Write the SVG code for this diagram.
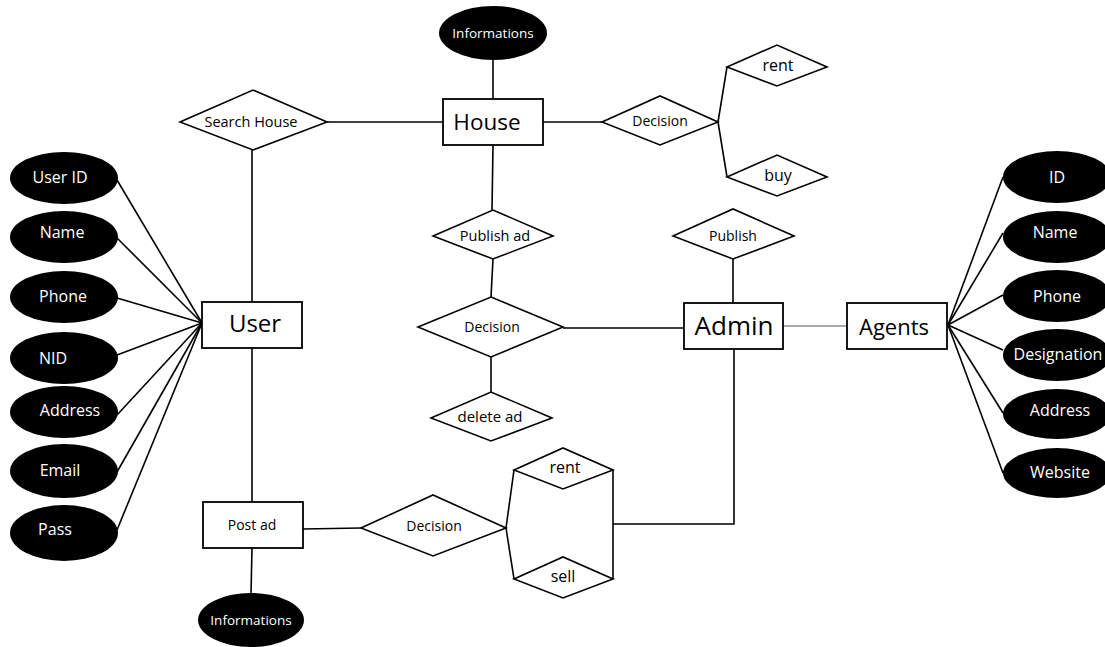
<svg xmlns="http://www.w3.org/2000/svg" width="1105" height="647" viewBox="0 0 1105 647">
<style>
.ent{fill:#fff;stroke:#000;stroke-width:1.8}
.rel{fill:#fff;stroke:#000;stroke-width:1.6}
.att{fill:#000}
.ln{stroke:#000;stroke-width:1.6;fill:none}
text{font-family:"Open Sans","Noto Sans","Liberation Sans",sans-serif;text-anchor:middle;dominant-baseline:central}
.t-big{font-size:22px;fill:#000}
.t-rel{font-size:14px;fill:#000}
.t-sm{font-size:16px;fill:#000}
.t-att{font-size:16px;fill:#fff}
.t-inf{font-size:13.5px;fill:#fff}
</style>
<rect width="1105" height="647" fill="#fff"/>
<g id="connectors">
<line class="ln" x1="117" y1="180" x2="202" y2="323"/>
<line class="ln" x1="117" y1="238" x2="202" y2="323"/>
<line class="ln" x1="117" y1="298" x2="202" y2="323"/>
<line class="ln" x1="117" y1="355" x2="202" y2="323"/>
<line class="ln" x1="117" y1="415" x2="202" y2="323"/>
<line class="ln" x1="117" y1="472" x2="202" y2="323"/>
<line class="ln" x1="117" y1="530" x2="202" y2="323"/>
<line class="ln" x1="252" y1="150" x2="252" y2="302"/>
<line class="ln" x1="252" y1="348" x2="252" y2="502"/>
<line class="ln" x1="252" y1="548" x2="251" y2="594"/>
<line class="ln" x1="303" y1="529" x2="361" y2="528"/>
<line class="ln" x1="506" y1="528" x2="514" y2="470"/>
<line class="ln" x1="506" y1="528" x2="514" y2="579"/>
<line class="ln" x1="613" y1="470" x2="613" y2="579"/>
<polyline class="ln" points="613,524 734,524 734,349"/>
<line class="ln" x1="493" y1="60" x2="493" y2="99"/>
<line class="ln" x1="327" y1="122" x2="443" y2="122"/>
<line class="ln" x1="493" y1="145" x2="492" y2="210"/>
<line class="ln" x1="543" y1="122" x2="602" y2="122"/>
<line class="ln" x1="718" y1="122" x2="727" y2="67"/>
<line class="ln" x1="718" y1="122" x2="727" y2="177"/>
<line class="ln" x1="493" y1="259" x2="491" y2="297"/>
<line class="ln" x1="563" y1="328" x2="684" y2="328"/>
<line class="ln" x1="491" y1="357" x2="491" y2="392"/>
<line class="ln" x1="733" y1="259" x2="733" y2="303"/>
<line x1="783" y1="326" x2="848" y2="326" stroke="#555" stroke-width="1.2"/>
<line class="ln" x1="948" y1="325" x2="1003" y2="177"/>
<line class="ln" x1="948" y1="325" x2="1003" y2="233"/>
<line class="ln" x1="948" y1="325" x2="1003" y2="295"/>
<line class="ln" x1="948" y1="325" x2="1003" y2="350"/>
<line class="ln" x1="948" y1="325" x2="1003" y2="413"/>
<line class="ln" x1="948" y1="325" x2="1003" y2="473"/>
</g>
<g id="user-id"><ellipse class="att" cx="64" cy="178" rx="54" ry="26"/><text class="t-att" x="60" y="177">User ID</text></g>
<g id="user-name"><ellipse class="att" cx="64" cy="237" rx="54" ry="26"/><text class="t-att" x="62" y="232">Name</text></g>
<g id="user-phone"><ellipse class="att" cx="64" cy="297" rx="54" ry="26"/><text class="t-att" x="63" y="296">Phone</text></g>
<g id="user-nid"><ellipse class="att" cx="64" cy="358" rx="54" ry="26"/><text class="t-att" x="53" y="358">NID</text></g>
<g id="user-address"><ellipse class="att" cx="64" cy="412" rx="54" ry="26"/><text class="t-att" x="70" y="410">Address</text></g>
<g id="user-email"><ellipse class="att" cx="64" cy="471" rx="54" ry="27"/><text class="t-att" x="60" y="470">Email</text></g>
<g id="user-pass"><ellipse class="att" cx="64" cy="533" rx="54" ry="28"/><text class="t-att" x="55" y="529">Pass</text></g>
<g id="user"><rect class="ent" x="202" y="302" width="100" height="46"/><text class="t-big" x="255" y="322" style="font-size:24px">User</text></g>
<g id="post-ad"><rect class="ent" x="203" y="502" width="100" height="46"/><text class="t-rel" x="252" y="524">Post ad</text></g>
<g id="post-info"><ellipse class="att" cx="251" cy="620" rx="53" ry="27"/><text class="t-inf" x="251" y="620">Informations</text></g>
<g id="post-decision"><polygon class="rel" points="361,528 433,495 506,528 433,556"/><text class="t-rel" x="434" y="525">Decision</text></g>
<g id="post-rent"><polygon class="rel" points="514,470 563,448 613,470 563,489"/><text class="t-sm" x="565" y="467">rent</text></g>
<g id="post-sell"><polygon class="rel" points="514,579 563,557 613,579 563,598"/><text class="t-sm" x="563" y="576">sell</text></g>
<g id="house-info"><ellipse class="att" cx="493" cy="33" rx="54" ry="27"/><text class="t-inf" x="493" y="33">Informations</text></g>
<g id="search-house"><polygon class="rel" points="180,122 253,90 327,122 253,150"/><text class="t-rel" x="251" y="121" style="font-size:14.5px">Search House</text></g>
<g id="house"><rect class="ent" x="443" y="99" width="100" height="46"/><text class="t-big" x="487" y="121" style="font-size:22.5px">House</text></g>
<g id="house-decision"><polygon class="rel" points="602,122 660,96 718,122 660,145"/><text class="t-rel" x="660" y="120">Decision</text></g>
<g id="house-rent"><polygon class="rel" points="727,67 777,45 827,67 777,86"/><text class="t-sm" x="778" y="65">rent</text></g>
<g id="house-buy"><polygon class="rel" points="727,177 777,155 827,177 777,196"/><text class="t-sm" x="778" y="175">buy</text></g>
<g id="publish-ad"><polygon class="rel" points="433,236 493,210 553,236 493,259"/><text class="t-rel" x="495" y="235" style="font-size:14.5px">Publish ad</text></g>
<g id="admin-decision"><polygon class="rel" points="418,327 491,297 563,327 491,357"/><text class="t-rel" x="492" y="326">Decision</text></g>
<g id="delete-ad"><polygon class="rel" points="431,418 491,392 552,418 491,441"/><text class="t-rel" x="490" y="416" style="font-size:15px">delete ad</text></g>
<g id="publish"><polygon class="rel" points="673,236 733,209 794,236 733,259"/><text class="t-rel" x="733" y="235">Publish</text></g>
<g id="admin"><rect class="ent" x="684" y="303" width="99" height="46"/><text class="t-big" x="734" y="325" style="font-size:26px">Admin</text></g>
<g id="agents"><rect class="ent" x="847" y="303" width="100" height="46"/><text class="t-big" x="894" y="326">Agents</text></g>
<g id="agent-id"><ellipse class="att" cx="1057" cy="177" rx="54" ry="26"/><text class="t-att" x="1057" y="177">ID</text></g>
<g id="agent-name"><ellipse class="att" cx="1057" cy="237" rx="54" ry="26"/><text class="t-att" x="1055" y="232">Name</text></g>
<g id="agent-phone"><ellipse class="att" cx="1057" cy="296" rx="54" ry="26"/><text class="t-att" x="1057" y="296">Phone</text></g>
<g id="agent-designation"><ellipse class="att" cx="1057" cy="355" rx="54" ry="26"/><text class="t-att" x="1058" y="354">Designation</text></g>
<g id="agent-address"><ellipse class="att" cx="1057" cy="414" rx="54" ry="25"/><text class="t-att" x="1060" y="410">Address</text></g>
<g id="agent-website"><ellipse class="att" cx="1057" cy="473" rx="54" ry="25"/><text class="t-att" x="1060" y="472">Website</text></g>
</svg>
